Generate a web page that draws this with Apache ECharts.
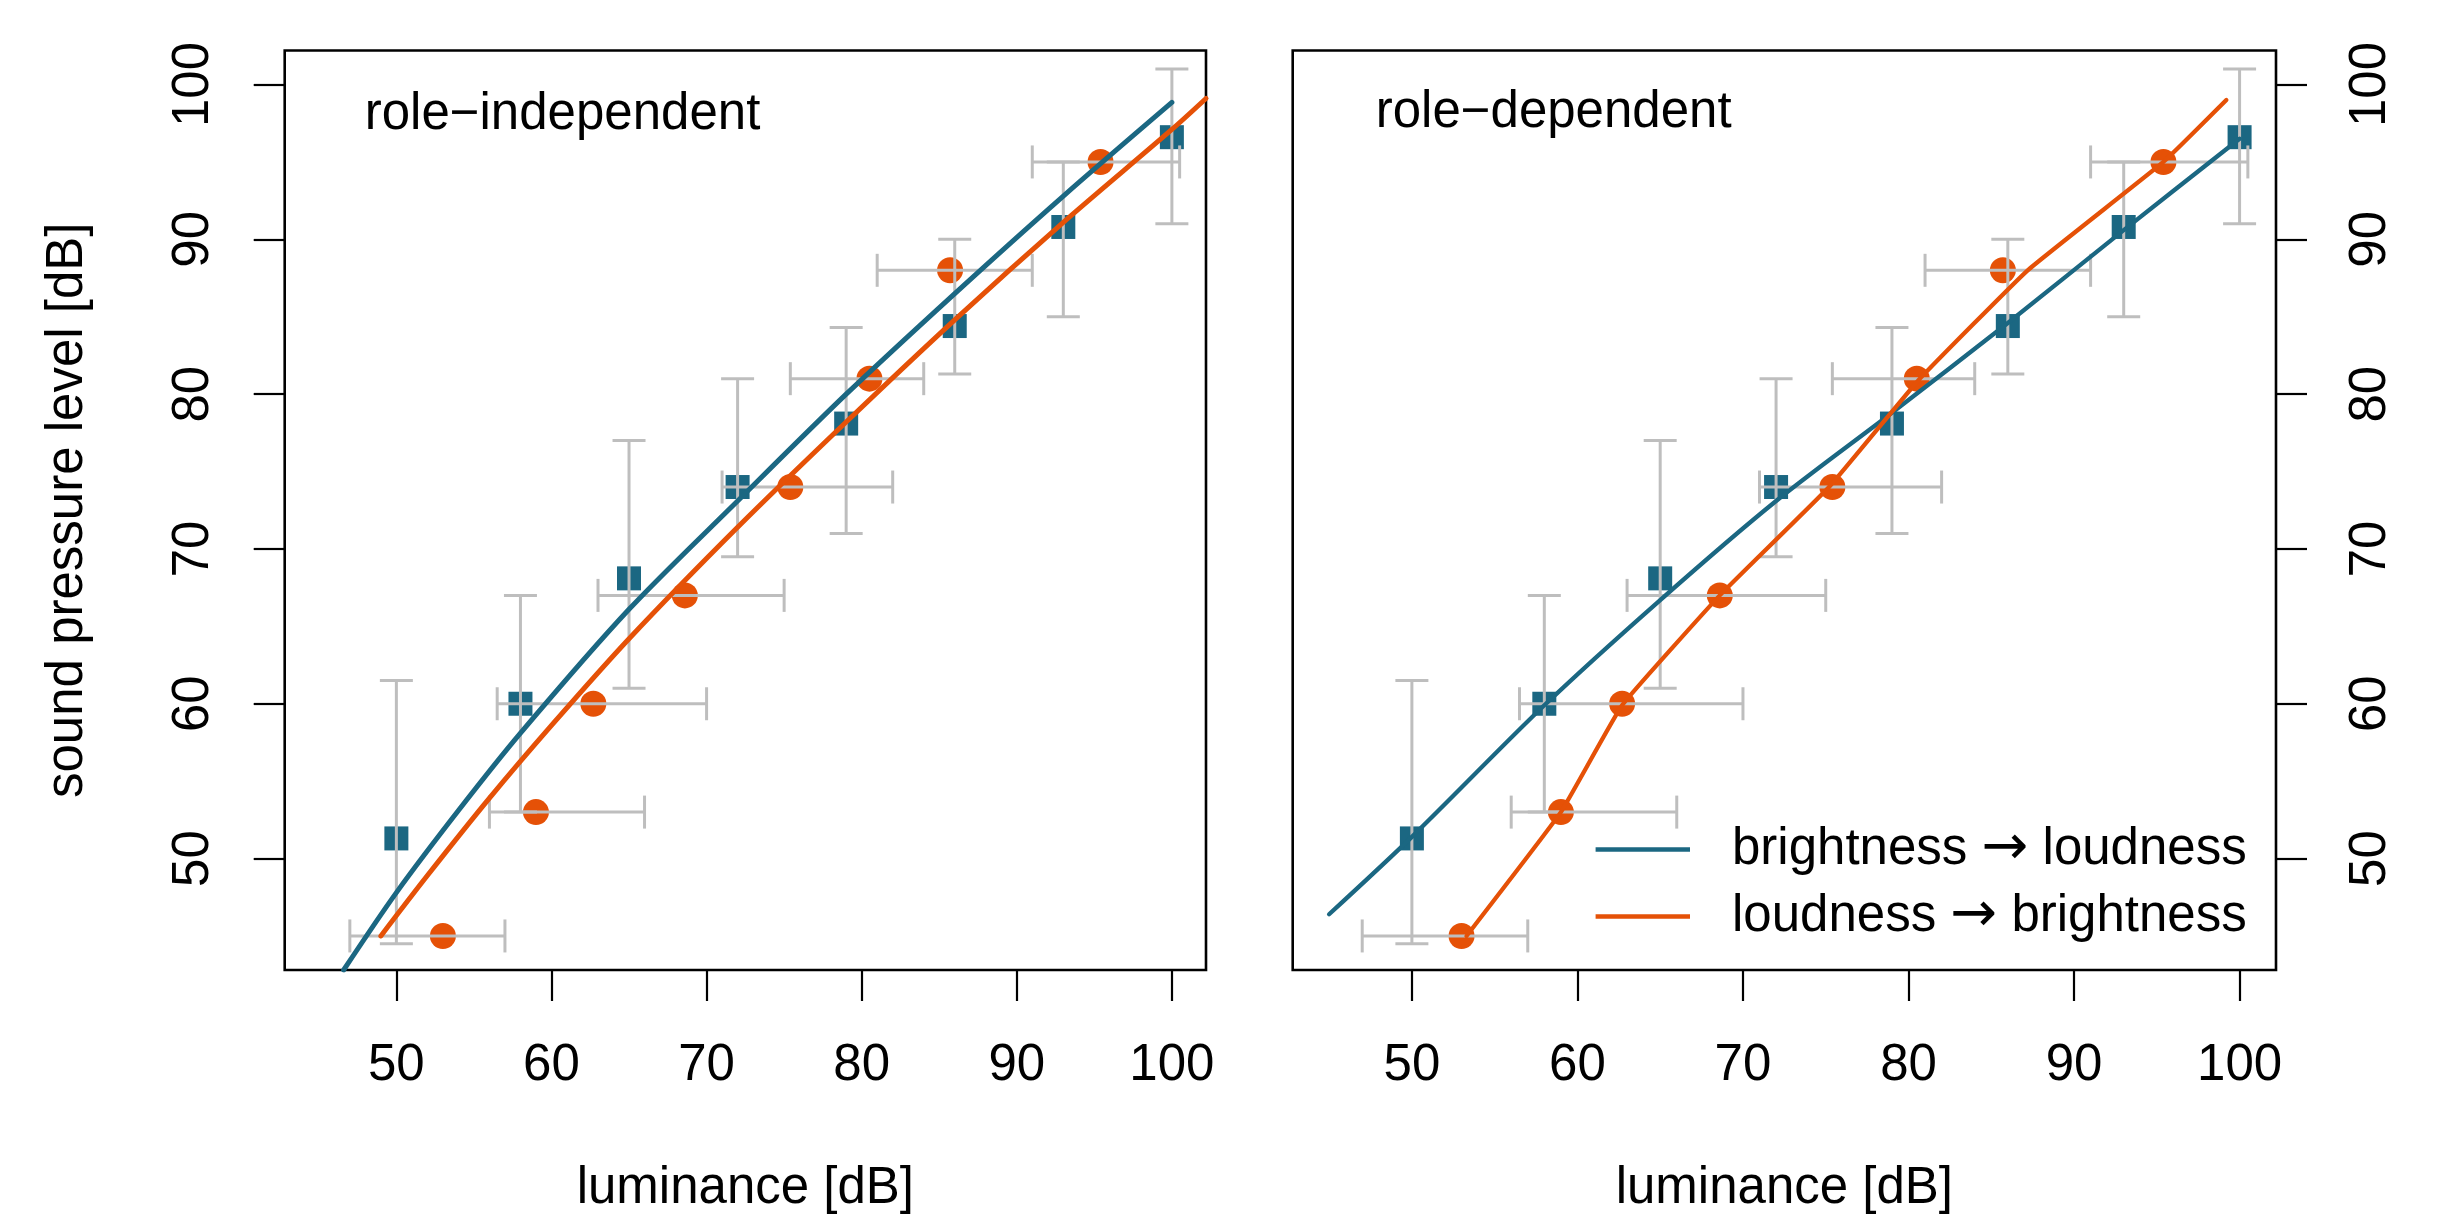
<!DOCTYPE html>
<html>
<head>
<meta charset="utf-8">
<script src="https://cdn.jsdelivr.net/npm/echarts@6/dist/echarts.min.js"></script>
<style>
html,body{margin:0;padding:0;background:#fff;}
#chart{width:2456px;height:1224px;}
</style>
</head>
<body>
<div id="chart"></div>
<script>
// ---------------- data ----------------
const tickValues = [50, 60, 70, 80, 90, 100];
const axisMin = 42.8, axisMax = 102.2;

// brightness -> loudness (squares, vertical error bars)
const blueX     = [50, 58, 65, 72, 79, 86, 93, 100];
const blueY     = [51.3, 60.0, 68.1, 74.0, 78.1, 84.4, 90.8, 96.6];
const blueYLow  = [44.5, 53.0, 61.0, 69.5, 71.0, 81.3, 85.0, 91.0];
const blueYHigh = [61.5, 67.0, 77.0, 81.0, 84.3, 90.0, 95.0, 101.0];

// loudness -> brightness (circles, horizontal error bars)
const orangeY     = [45, 53, 60, 67, 74, 81, 88, 95];
const orangeX     = [53.0, 59.0, 62.7, 68.6, 75.4, 80.5, 85.7, 95.4];
const orangeXLow  = [47.0, 56.0, 56.5, 63.0, 71.0, 75.4, 81.0, 91.0];
const orangeXHigh = [57.0, 66.0, 70.0, 75.0, 82.0, 84.0, 91.0, 100.5];

// fitted curves, role-independent (left panel)
const indepBlueCurveX   = [46.6, 50, 54, 58, 65, 72, 79, 86, 93, 100];
const indepBlueCurveY   = [42.8, 47.8, 53.1, 58.1, 66.1, 73.1, 80.0, 86.5, 92.8, 98.85];
const indepOrangeCurveX = [49.0, 52, 56, 60, 65, 72, 79, 86, 93, 100, 102.2];
const indepOrangeCurveY = [45.0, 48.9, 53.9, 58.6, 64.2, 71.4, 78.2, 84.8, 91.1, 97.1, 99.1];

// fitted curves, role-dependent (right panel)
const depBlueCurveX   = [45.0, 50, 58, 65, 72, 79, 86, 93, 100];
const depBlueCurveY   = [46.4, 51.4, 59.9, 66.7, 73.1, 78.8, 84.6, 90.6, 96.5];
const depOrangeCurveX = [53.3, 59.0, 62.7, 68.6, 75.2, 80.6, 87.2, 95.4, 99.2];
const depOrangeCurveY = [45.0, 53.0, 59.9, 67.0, 74.0, 80.9, 88.0, 95.0, 99.0];

const panelTitles = ['role\u2212independent', 'role\u2212dependent'];
const legendNames = ['brightness \u2192 loudness', 'loudness \u2192 brightness'];
const xTitle = 'luminance [dB]';
const yTitle = 'sound pressure level [dB]';

// ---------------- style ----------------
const BLUE = '#1b6782';
const ORANGE = '#e55107';
const GRAY = '#bebebe';
const FONT = '"Liberation Sans", Arial, "DejaVu Sans", sans-serif';
const FS = 51;

const zip = (a, b) => a.map((v, i) => [v, b[i]]);
const zip3 = (a, b, c) => a.map((v, i) => [v, b[i], c[i]]);

const grids = [
  {left: 284.7, top: 50.5, width: 921.3, height: 919.5},
  {left: 1292.7, top: 50.5, width: 983.3, height: 919.5}
];

function xAxisFor(i) {
  return {
    type: 'value', gridIndex: i, min: axisMin, max: axisMax,
    name: xTitle, nameLocation: 'middle', nameGap: 193,
    nameTextStyle: {fontSize: FS, fontFamily: FONT, color: '#000'},
    axisLine: {show: false},
    axisTick: {show: true, customValues: tickValues, length: 31, lineStyle: {color: '#000', width: 2.2}},
    axisLabel: {show: true, customValues: tickValues, margin: 70, fontSize: FS, fontFamily: FONT, color: '#000'},
    splitLine: {show: false}
  };
}
function yAxisFor(i) {
  const left = i === 0;
  return {
    type: 'value', gridIndex: i, min: axisMin, max: axisMax,
    position: left ? 'left' : 'right',
    name: left ? yTitle : '', nameLocation: 'middle', nameGap: 191, nameRotate: 90,
    nameTextStyle: {fontSize: FS, fontFamily: FONT, color: '#000'},
    axisLine: {show: false},
    axisTick: {show: true, customValues: tickValues, length: 31, lineStyle: {color: '#000', width: 2.2}},
    axisLabel: {show: true, customValues: tickValues, rotate: 90, margin: left ? 65 : 69, fontSize: FS, fontFamily: FONT, color: '#000'},
    splitLine: {show: false}
  };
}

function vErr(params, api) {
  const x = api.value(0), lo = api.value(1), hi = api.value(2);
  const a = api.coord([x, lo]), b = api.coord([x, hi]);
  const cw = 16.5, st = {stroke: GRAY, lineWidth: 3};
  return {type: 'group', children: [
    {type: 'line', shape: {x1: a[0], y1: a[1], x2: b[0], y2: b[1]}, style: st},
    {type: 'line', shape: {x1: a[0] - cw, y1: a[1], x2: a[0] + cw, y2: a[1]}, style: st},
    {type: 'line', shape: {x1: b[0] - cw, y1: b[1], x2: b[0] + cw, y2: b[1]}, style: st}
  ]};
}
function hErr(params, api) {
  const y = api.value(0), lo = api.value(1), hi = api.value(2);
  const a = api.coord([lo, y]), b = api.coord([hi, y]);
  const cw = 16.5, st = {stroke: GRAY, lineWidth: 3};
  return {type: 'group', children: [
    {type: 'line', shape: {x1: a[0], y1: a[1], x2: b[0], y2: b[1]}, style: st},
    {type: 'line', shape: {x1: a[0], y1: a[1] - cw, x2: a[0], y2: a[1] + cw}, style: st},
    {type: 'line', shape: {x1: b[0], y1: b[1] - cw, x2: b[0], y2: b[1] + cw}, style: st}
  ]};
}

function panelSeries(i, blueCurve, orangeCurve, lw, blueSmooth, orangeSmooth) {
  return [
    {type: 'scatter', name: 'brightness points', xAxisIndex: i, yAxisIndex: i, z: 2,
     symbol: 'rect', symbolSize: 24, itemStyle: {color: BLUE, opacity: 1},
     data: zip(blueX, blueY), silent: true},
    {type: 'scatter', name: 'loudness points', xAxisIndex: i, yAxisIndex: i, z: 2,
     symbol: 'circle', symbolSize: 26, itemStyle: {color: ORANGE, opacity: 1},
     data: zip(orangeX, orangeY), silent: true},
    {type: 'custom', name: 'y error', xAxisIndex: i, yAxisIndex: i, z: 3,
     renderItem: vErr, encode: {x: 0, y: [1, 2]},
     data: zip3(blueX, blueYLow, blueYHigh), silent: true},
    {type: 'custom', name: 'x error', xAxisIndex: i, yAxisIndex: i, z: 3,
     renderItem: hErr, encode: {y: 0, x: [1, 2]},
     data: zip3(orangeY, orangeXLow, orangeXHigh), silent: true},
    {type: 'line', name: legendNames[0], xAxisIndex: i, yAxisIndex: i, z: 4,
     showSymbol: false, symbol: 'none', smooth: blueSmooth,
     lineStyle: {color: BLUE, width: lw, cap: 'round', join: 'round'}, itemStyle: {color: BLUE},
     data: blueCurve, silent: true},
    {type: 'line', name: legendNames[1], xAxisIndex: i, yAxisIndex: i, z: 4,
     showSymbol: false, symbol: 'none', smooth: orangeSmooth,
     lineStyle: {color: ORANGE, width: lw, cap: 'round', join: 'round'}, itemStyle: {color: ORANGE},
     data: orangeCurve, silent: true}
  ];
}

const chart = echarts.init(document.getElementById('chart'), null, {renderer: 'canvas'});
chart.setOption({
  animation: false,
  backgroundColor: '#fff',
  grid: grids.map(g => Object.assign({show: true, borderColor: '#000', borderWidth: 2.6, backgroundColor: 'transparent', containLabel: false}, g)),
  xAxis: [xAxisFor(0), xAxisFor(1)],
  yAxis: [yAxisFor(0), yAxisFor(1)],
  legend: {
    show: true, orient: 'vertical', left: 1590.6, top: 816.5,
    itemWidth: 94.4, itemHeight: 4.5, itemGap: 11,
    selectedMode: false,
    data: legendNames.map(n => ({name: n, icon: 'rect'})),
    formatter: function (name) {
      const parts = name.split(' \u2192 ');
      return '{t|' + parts[0] + ' }{a|\u2192}{t| ' + parts[1] + '}';
    },
    textStyle: {
      fontSize: FS, fontFamily: FONT, color: '#000', lineHeight: 51, padding: [0, 0, 0, 37],
      rich: {
        t: {fontSize: FS, fontFamily: FONT, color: '#000', lineHeight: 51},
        a: {fontSize: 56, fontFamily: '"DejaVu Sans", sans-serif', color: '#000', lineHeight: 51}
      }
    }
  },
  graphic: [
    {type: 'text', left: 364.7, top: 89, style: {text: panelTitles[0], font: FS + 'px ' + FONT, fill: '#000'}},
    {type: 'text', left: 1375.7, top: 87, style: {text: panelTitles[1], font: FS + 'px ' + FONT, fill: '#000'}}
  ],
  series: [
    ...panelSeries(0, zip(indepBlueCurveX, indepBlueCurveY), zip(indepOrangeCurveX, indepOrangeCurveY), 5, 0.3, 0.3),
    ...panelSeries(1, zip(depBlueCurveX, depBlueCurveY), zip(depOrangeCurveX, depOrangeCurveY), 4.3, 0.3, 0.1)
  ]
});
</script>
</body>
</html>
